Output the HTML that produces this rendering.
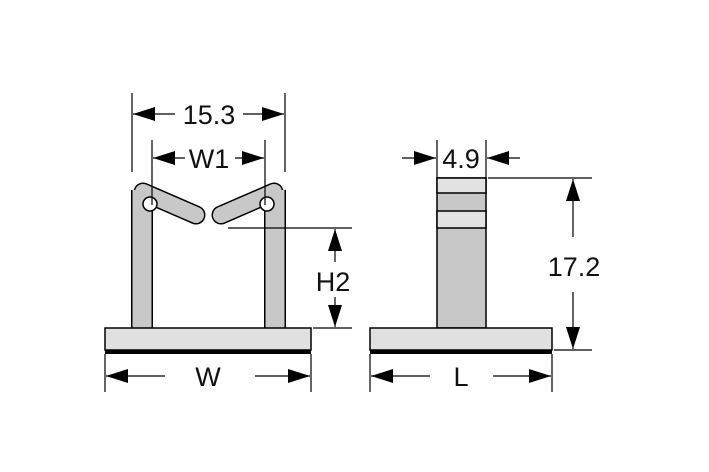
<!DOCTYPE html><html><head><style>body{margin:0;background:#fff}svg{display:block}text{font-family:"Liberation Sans",sans-serif;font-size:27px;fill:#111}</style></head><body>
<svg width="709" height="472" viewBox="0 0 709 472">
<defs><marker id="b" viewBox="0 0 22 14" refX="22" refY="7" markerWidth="22" markerHeight="14" markerUnits="userSpaceOnUse" orient="auto"><path d="M0,0 L22,7 L0,14 Z" fill="#000"/></marker></defs>
<g stroke="#000" stroke-linecap="round" fill="none">
<line x1="142" y1="190" x2="142" y2="328" stroke-width="22" stroke-linecap="butt"/>
<line x1="143" y1="192" x2="196" y2="215" stroke-width="19"/>
<line x1="275" y1="190" x2="275" y2="328" stroke-width="22" stroke-linecap="butt"/>
<line x1="274" y1="192" x2="221" y2="215" stroke-width="19"/>
</g>
<g stroke="#c8c8c8" stroke-linecap="round" fill="none">
<line x1="142" y1="190" x2="142" y2="330" stroke-width="19" stroke-linecap="butt"/>
<line x1="143" y1="192" x2="196" y2="215" stroke-width="16"/>
<line x1="275" y1="190" x2="275" y2="330" stroke-width="19" stroke-linecap="butt"/>
<line x1="274" y1="192" x2="221" y2="215" stroke-width="16"/>
</g>
<circle cx="150" cy="204" r="7" fill="#fff" stroke="#000" stroke-width="1.5"/>
<circle cx="267" cy="204" r="7" fill="#fff" stroke="#000" stroke-width="1.5"/>
<rect x="105" y="328" width="206" height="22" fill="#e0e0e0" stroke="#000" stroke-width="1.5"/>
<rect x="105" y="350" width="206" height="4" fill="#000"/>
<rect x="437" y="178" width="49" height="150" fill="#c8c8c8" stroke="#000" stroke-width="1.5"/>
<rect x="437" y="178" width="49" height="15" fill="#e2e2e2" stroke="#000" stroke-width="1.5"/>
<rect x="437" y="211" width="49" height="17" fill="#e2e2e2" stroke="#000" stroke-width="1.5"/>
<rect x="370" y="328" width="182" height="22" fill="#e0e0e0" stroke="#000" stroke-width="1.5"/>
<rect x="370" y="350" width="182" height="4" fill="#000"/>
<g stroke="#000" stroke-width="1.2">
<line x1="132" y1="93" x2="132" y2="172"/><line x1="285" y1="93" x2="285" y2="172"/>
<line x1="152" y1="140" x2="152" y2="205"/><line x1="265" y1="140" x2="265" y2="205"/>
<line x1="228" y1="228" x2="352" y2="228"/><line x1="313" y1="328" x2="352" y2="328"/>
<line x1="105" y1="354" x2="105" y2="392"/><line x1="311" y1="354" x2="311" y2="392"/>
<line x1="437" y1="140" x2="437" y2="178"/><line x1="486" y1="140" x2="486" y2="178"/>
<line x1="488" y1="178" x2="592" y2="178"/><line x1="554" y1="350" x2="592" y2="350"/>
<line x1="370" y1="354" x2="370" y2="392"/><line x1="552" y1="354" x2="552" y2="392"/>
</g>
<g stroke="#000" stroke-width="1.2">
<line x1="175" y1="114" x2="133" y2="114" marker-end="url(#b)"/><line x1="243" y1="114" x2="284" y2="114" marker-end="url(#b)"/>
<line x1="185" y1="158" x2="153" y2="158" marker-end="url(#b)"/><line x1="235" y1="158" x2="264" y2="158" marker-end="url(#b)"/>
<line x1="335" y1="262" x2="335" y2="229" marker-end="url(#b)"/><line x1="335" y1="297" x2="335" y2="327" marker-end="url(#b)"/>
<line x1="165" y1="376" x2="106" y2="376" marker-end="url(#b)"/><line x1="255" y1="376" x2="310" y2="376" marker-end="url(#b)"/>
<line x1="402" y1="158" x2="436" y2="158" marker-end="url(#b)"/><line x1="520" y1="158" x2="487" y2="158" marker-end="url(#b)"/>
<line x1="573" y1="237" x2="573" y2="179" marker-end="url(#b)"/><line x1="573" y1="292" x2="573" y2="349" marker-end="url(#b)"/>
<line x1="430" y1="376" x2="371" y2="376" marker-end="url(#b)"/><line x1="493" y1="376" x2="551" y2="376" marker-end="url(#b)"/>
</g>
<text x="209" y="124" text-anchor="middle">15.3</text>
<text x="209" y="168" text-anchor="middle">W1</text>
<text x="333" y="291" text-anchor="middle">H2</text>
<text x="208" y="386" text-anchor="middle">W</text>
<text x="461" y="168" text-anchor="middle">4.9</text>
<text x="574" y="276" text-anchor="middle">17.2</text>
<text x="461" y="386" text-anchor="middle">L</text>
</svg></body></html>
